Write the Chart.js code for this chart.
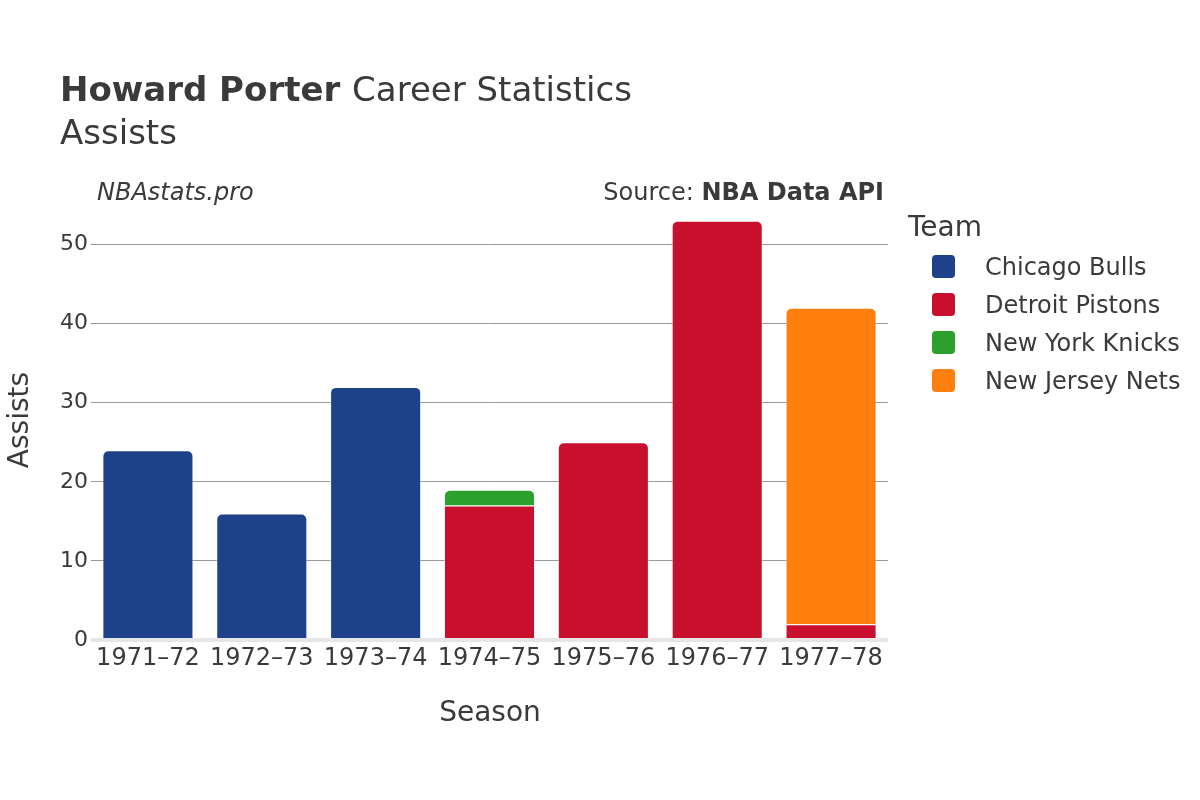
<!DOCTYPE html>
<html>
<head>
<meta charset="utf-8">
<script src="https://cdn.jsdelivr.net/npm/chart.js@4/dist/chart.umd.min.js"></script>
<style>
  html, body { margin: 0; padding: 0; background: #fff; }
  #wrap { width: 1200px; height: 800px; position: relative; }
</style>
</head>
<body>
<div id="wrap"><canvas id="c" width="1200" height="800"></canvas></div>
<script>
const seasons = ["1971–72", "1972–73", "1973–74", "1974–75", "1975–76", "1976–77", "1977–78"];
const teams = ["Chicago Bulls", "Detroit Pistons", "New York Knicks", "New Jersey Nets"];
const bullsAssists   = [24, 16, 32, null, null, null, null];
const pistonsAssists = [null, null, null, 17, 25, 53, 2];
const knicksAssists  = [null, null, null, 2, null, null, null];
const netsAssists    = [null, null, null, null, null, null, 40];
const teamColors = ["#1d428a", "#c8102e", "#2ca02c", "#ff7f0e"];
const yTickValues = [0, 10, 20, 30, 40, 50];

const FONT = "'DejaVu Sans', Verdana, sans-serif";
const TXT = "#3a3a3a";

const seriesValues = [bullsAssists, pistonsAssists, knicksAssists, netsAssists];

const overlay = {
  id: 'overlay',
  afterDraw(chart) {
    const ctx = chart.ctx;
    ctx.save();
    ctx.fillStyle = TXT;
    ctx.textBaseline = 'alphabetic';
    // Title
    ctx.textAlign = 'left';
    ctx.font = "bold 34px " + FONT;
    ctx.fillText("Howard Porter", 60, 101);
    const w = ctx.measureText("Howard Porter ").width;
    ctx.font = "34px " + FONT;
    ctx.fillText("Career Statistics", 60 + w, 101);
    ctx.fillText("Assists", 60, 144);
    // Subtitles
    ctx.font = "italic 24px " + FONT;
    ctx.fillText("NBAstats.pro", 97, 200);
    ctx.textAlign = 'right';
    ctx.font = "bold 24px " + FONT;
    const bw = ctx.measureText("NBA Data API").width;
    ctx.fillText("NBA Data API", 884, 200);
    ctx.font = "24px " + FONT;
    ctx.fillText("Source: ", 884 - bw, 200);
    // Axis titles
    ctx.textAlign = 'center';
    ctx.font = "28px " + FONT;
    ctx.fillText("Season", 490, 721);
    ctx.save();
    ctx.translate(28, 420);
    ctx.rotate(-Math.PI / 2);
    ctx.fillText("Assists", 0, 0);
    ctx.restore();
    // Legend
    ctx.textAlign = 'left';
    ctx.font = "28px " + FONT;
    ctx.fillText("Team", 908, 236);
    ctx.font = "24px " + FONT;
    chart.data.datasets.forEach((ds, i) => {
      const cy = 266 + i * 38;
      ctx.fillStyle = ds.backgroundColor;
      ctx.beginPath();
      ctx.roundRect(932, cy - 11, 23, 23, 4);
      ctx.fill();
      ctx.fillStyle = TXT;
      ctx.fillText(ds.label, 985, cy + 9);
    });
    ctx.restore();
  }
};

new Chart(document.getElementById('c'), {
  type: 'bar',
  data: {
    labels: seasons,
    datasets: teams.map((t, i) => ({
      label: t,
      data: seriesValues[i],
      backgroundColor: teamColors[i],
      borderColor: 'rgba(255,255,255,0.55)',
      borderWidth: 1,
      borderRadius: 6,
      borderSkipped: 'start',
      barPercentage: 0.8,
      categoryPercentage: 1
    }))
  },
  options: {
    responsive: false,
    animation: false,
    devicePixelRatio: 1,
    layout: { padding: { left: 0, right: 312, top: 205, bottom: 120 } },
    plugins: { legend: { display: false }, title: { display: false }, tooltip: { enabled: false } },
    scales: {
      x: {
        stacked: true,
        grid: { display: false, drawTicks: false },
        border: { display: false },
        ticks: { color: TXT, font: { family: FONT, size: 24 }, padding: 4, maxRotation: 0 },
        afterFit(s) { s.height = 40; }
      },
      y: {
        stacked: true,
        min: 0,
        max: 55,
        afterBuildTicks(s) { s.ticks = yTickValues.map(v => ({ value: v })); },
        grid: {
          drawTicks: false,
          color: ctx => ctx.tick && ctx.tick.value === 0 ? '#e6e6e6' : '#9a9a9a',
          lineWidth: ctx => ctx.tick && ctx.tick.value === 0 ? 4 : 1
        },
        border: { display: false },
        ticks: { color: TXT, font: { family: FONT, size: 22 }, padding: 3 },
        afterFit(s) { s.width = 91; }
      }
    }
  },
  plugins: [overlay]
});
</script>
</body>
</html>
